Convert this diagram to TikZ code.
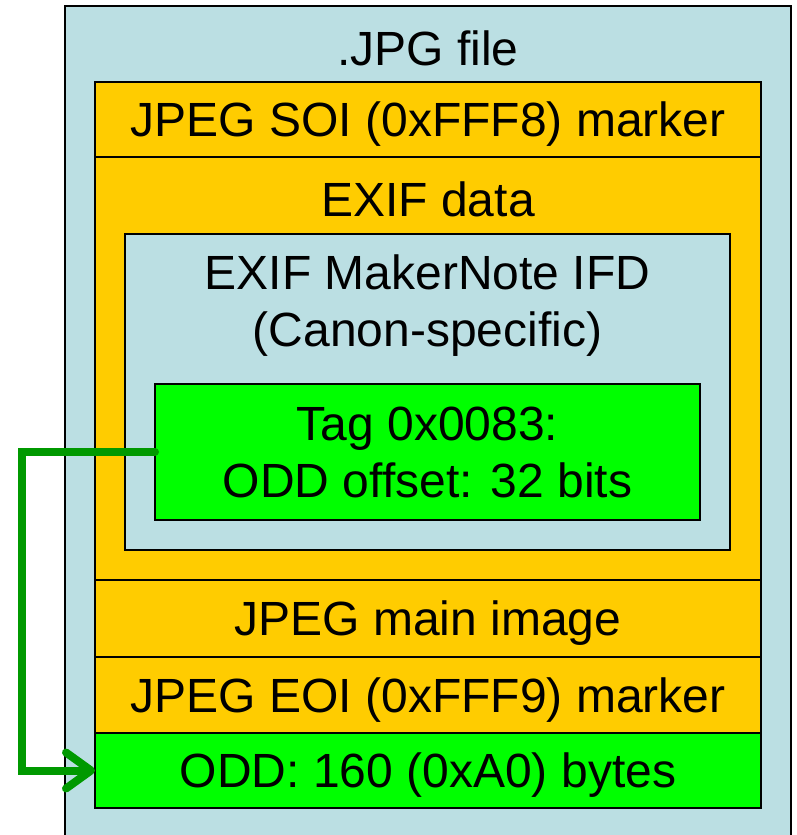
\documentclass[tikz,border=0pt]{standalone}
\usepackage{fontspec}
\setmainfont{Liberation Sans}
\usetikzlibrary{arrows.meta,positioning}

\definecolor{fileblue}{HTML}{BBDFE3}
\definecolor{exifgold}{HTML}{FFCC00}
\definecolor{oddgreen}{HTML}{00FF00}
\definecolor{linkgreen}{HTML}{009900}

\tikzset{
  block/.style={draw=black, line width=1.8pt, inner sep=0pt, outer sep=0pt,
                anchor=north west, align=center, text depth=0pt},
  oneline/.style={text height=34pt, text depth=0pt},
  filebox/.style={block, fill=fileblue, line width=2.5pt},
  goldbox/.style={block, fill=exifgold},
  greenbox/.style={block, fill=oddgreen},
  caption/.style={inner sep=0pt, outer sep=0pt, align=center, text depth=0pt},
  link/.style={draw=linkgreen, line width=8pt, line cap=round, line join=miter,
               -{Straight Barb[length=25pt, width=36pt, line width=8pt, line cap=round, round]}}
}

\begin{document}
\begin{tikzpicture}[x=1pt, y=-1pt, font=\fontsize{48}{57}\selectfont]

    \useasboundingbox (0,0) rectangle (796,835);

    % Define nodes
    \node[filebox, minimum width=726pt, minimum height=850pt] (file) at (65,6) {};
    \node[caption, oneline, below=25pt of file.north]         (file-t) {.JPG file};

    \node[goldbox, oneline, minimum width=666pt, minimum height=75pt]  (soi) at (95,82) {JPEG SOI (0xFFF8) marker};
    \node[goldbox, minimum width=666pt, minimum height=423pt] (exif) at (95,157) {};
    \node[caption, oneline, below=25pt of exif.north]          (exif-t) {EXIF data};

    \node[filebox, line width=1.8pt, minimum width=605pt, minimum height=316pt] (maker) at (125,234) {};
    \node[caption, below=21pt of maker.north]                  (maker-t) {EXIF MakerNote IFD\\(Canon-specific)};

    \node[greenbox, minimum width=545pt, minimum height=136pt] (tag) at (155,384) {Tag 0x0083:\\ODD offset: 32 bits};

    \node[goldbox, oneline, minimum width=666pt, minimum height=77pt]  (main) at (95,580) {JPEG main image};
    \node[goldbox, oneline, minimum width=666pt, minimum height=76pt]  (eoi) at (95,657) {JPEG EOI (0xFFF9) marker};
    \node[greenbox, oneline, minimum width=666pt, minimum height=75pt] (odd) at (95,733) {ODD: 160 (0xA0) bytes};

    % Connect the nodes
    \draw[link] (tag.west) -- ++(-133,0) |- (odd.west);

\end{tikzpicture}
\end{document}
